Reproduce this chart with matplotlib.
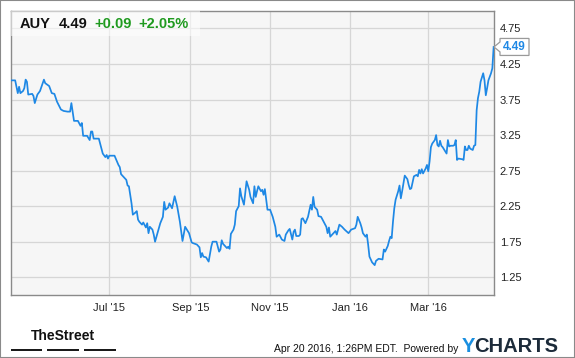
import matplotlib
matplotlib.use("Agg")
import matplotlib.pyplot as plt
import matplotlib.dates as mdates
from matplotlib.patches import Rectangle, Polygon
from matplotlib.transforms import IdentityTransform
import pandas as pd

# ── Data ──────────────────────────────────────────────────────────────────────
dates_2015 = [
    "04-17", "04-20", "04-22", "04-23", "04-24", "04-26", "04-27", "04-28", "04-29", "04-30",
    "05-03", "05-04", "05-05", "05-07", "05-09", "05-12", "05-13", "05-16", "05-18", "05-20",
    "05-22", "05-25", "05-27", "05-30", "06-01", "06-02", "06-03", "06-04", "06-07", "06-09",
    "06-10", "06-11", "06-14", "06-16", "06-17", "06-18", "06-19", "06-23", "06-25", "06-26",
    "06-28", "06-29", "06-30", "07-01", "07-05", "07-08", "07-09", "07-10", "07-12", "07-14",
    "07-15", "07-16", "07-18", "07-19", "07-21", "07-22", "07-23", "07-24", "07-26", "07-27",
    "07-29", "07-30", "07-31", "08-01", "08-02", "08-03", "08-04", "08-05", "08-07", "08-09",
    "08-11", "08-12", "08-13", "08-15", "08-16", "08-18", "08-20", "08-22", "08-24", "08-26",
    "08-28", "08-29", "08-31", "09-02", "09-03", "09-06", "09-08", "09-09", "09-10", "09-11",
    "09-13", "09-15", "09-17", "09-18", "09-21", "09-23", "09-24", "09-25", "09-26", "09-29",
    "09-30", "10-01", "10-02", "10-04", "10-05", "10-06", "10-08", "10-09", "10-10", "10-12",
    "10-14", "10-16", "10-17", "10-19", "10-20", "10-21", "10-22", "10-23", "10-25", "10-26",
    "10-27", "10-28", "10-30", "11-01", "11-03", "11-05", "11-06", "11-08", "11-10", "11-12",
    "11-13", "11-15", "11-16", "11-18", "11-19", "11-20", "11-21", "11-23", "11-24", "11-25",
    "11-26", "11-28", "11-30", "12-02", "12-03", "12-04", "12-05", "12-07", "12-08", "12-10",
    "12-12", "12-14", "12-15", "12-16", "12-17", "12-19", "12-21", "12-22", "12-23", "12-24",
    "12-26", "12-28", "12-31",
]
prices_2015 = [
    4.02, 4.02, 3.84, 3.93, 3.84, 3.87, 3.91, 4.03, 4.00, 3.82,
    3.83, 3.80, 3.70, 3.82, 3.87, 4.03, 3.98, 3.94, 3.84, 3.83,
    3.72, 3.61, 3.59, 3.58, 3.58, 3.70, 3.58, 3.45, 3.45, 3.38,
    3.42, 3.24, 3.24, 3.18, 3.30, 3.30, 3.20, 3.20, 3.06, 2.99,
    2.94, 2.97, 2.92, 2.96, 2.96, 2.83, 2.80, 2.70, 2.66, 2.62,
    2.54, 2.53, 2.29, 2.13, 2.16, 2.18, 2.06, 2.03, 1.99, 2.02,
    1.95, 2.01, 1.87, 1.96, 1.94, 1.92, 1.85, 1.75, 1.88, 2.01,
    2.10, 2.31, 2.20, 2.23, 2.29, 2.22, 2.39, 2.24, 2.03, 1.76,
    1.96, 1.93, 1.87, 1.74, 1.73, 1.71, 1.67, 1.53, 1.59, 1.54,
    1.53, 1.47, 1.68, 1.75, 1.75, 1.61, 1.64, 1.77, 1.72, 1.66,
    1.68, 1.65, 1.86, 1.92, 1.99, 2.18, 2.25, 2.50, 2.39, 2.27,
    2.60, 2.48, 2.38, 2.29, 2.53, 2.38, 2.46, 2.53, 2.46, 2.48,
    2.41, 2.49, 2.20, 2.20, 2.10, 1.96, 1.82, 1.85, 1.78, 1.76,
    1.85, 1.91, 1.93, 1.78, 1.89, 1.92, 1.83, 1.83, 1.85, 2.07,
    2.08, 2.01, 2.10, 2.27, 2.20, 2.38, 2.24, 2.20, 2.11, 2.10,
    2.03, 1.96, 1.87, 1.95, 1.82, 1.86, 1.90, 1.85, 1.92, 1.99,
    1.96, 1.92, 1.87,
]
dates_2016 = [
    "01-02", "01-05", "01-06", "01-07", "01-09", "01-10", "01-11", "01-13", "01-14", "01-15",
    "01-16", "01-18", "01-20", "01-21", "01-23", "01-26", "01-27", "01-28", "01-30", "01-31",
    "02-01", "02-02", "02-03", "02-04", "02-05", "02-07", "02-08", "02-09", "02-10", "02-11",
    "02-12", "02-14", "02-15", "02-16", "02-17", "02-19", "02-21", "02-22", "02-23", "02-24",
    "02-25", "02-26", "02-28", "02-29", "03-01", "03-02", "03-03", "03-04", "03-06", "03-07",
    "03-08", "03-09", "03-10", "03-11", "03-12", "03-14", "03-15", "03-16", "03-17", "03-18",
    "03-20", "03-21", "03-22", "03-23", "03-24", "03-27", "03-28", "03-29", "03-30", "03-31",
    "04-01", "04-02", "04-03", "04-04", "04-05", "04-06", "04-07", "04-08", "04-09", "04-10",
    "04-12", "04-13", "04-14", "04-15", "04-16", "04-17", "04-18", "04-19", "04-20",
]
prices_2016 = [
    1.92, 1.94, 1.99, 2.10, 2.01, 1.95, 1.87, 1.82, 1.85, 1.71,
    1.54, 1.46, 1.42, 1.48, 1.51, 1.50, 1.64, 1.61, 1.69, 1.76,
    1.82, 1.80, 2.03, 2.22, 2.34, 2.46, 2.54, 2.36, 2.46, 2.57,
    2.68, 2.63, 2.55, 2.49, 2.50, 2.67, 2.69, 2.67, 2.76, 2.71,
    2.77, 2.71, 2.78, 2.83, 2.74, 2.88, 3.08, 3.13, 3.18, 3.25,
    3.11, 3.09, 3.17, 3.10, 3.08, 3.02, 2.99, 3.18, 3.09, 3.10,
    3.10, 3.11, 3.18, 2.90, 2.92, 2.91, 2.90, 3.09, 3.04, 3.04,
    3.10, 3.06, 3.05, 3.04, 3.10, 3.11, 3.60, 3.77, 3.86, 4.00,
    4.12, 4.02, 3.81, 3.91, 4.02, 4.07, 4.12, 4.19, 4.49,
]

ticker = "AUY"
last_price = 4.49
change = "+0.09"
change_pct = "+2.05%"
y_ticks = [1.25, 1.75, 2.25, 2.75, 3.25, 3.75, 4.25, 4.75]
x_ticks = ["2015-07-01", "2015-09-01", "2015-11-01", "2016-01-01", "2016-03-01"]
x_labels = ["Jul '15", "Sep '15", "Nov '15", "Jan '16", "Mar '16"]
stamp = "Apr 20 2016, 1:26PM EDT.  Powered by"

dates = pd.to_datetime(["2015-" + d for d in dates_2015] + ["2016-" + d for d in dates_2016])
prices = prices_2015 + prices_2016

# ── Style ─────────────────────────────────────────────────────────────────────
plt.rcParams["font.family"] = ["Liberation Sans", "DejaVu Sans"]
BLUE = "#1e88e5"
GREEN = "#1f9a1f"
W, H = 575, 358

def fx(px):
    return px / W

def fy(py):
    return 1 - py / H

fig = plt.figure(figsize=(W / 100, H / 100), dpi=100)
ax = fig.add_axes([fx(10.7), fy(295), fx(494.3) - fx(10.7), fy(10.7) - fy(295)])
ax.set_facecolor("#f6f6f6")

ax.plot(dates, prices, color=BLUE, lw=1.25, zorder=3)

ax.set_xlim(pd.Timestamp("2015-04-16 14:00"), pd.Timestamp("2016-04-20 12:00"))
ax.set_ylim(1.0, 5.0)
ax.set_xticks(pd.to_datetime(x_ticks))
ax.set_xticklabels(x_labels)
ax.set_yticks(y_ticks)
ax.set_yticklabels([f"{v:.2f}" for v in y_ticks])
ax.yaxis.tick_right()
ax.tick_params(axis="both", length=0, labelsize=8, labelcolor="#222222")
ax.tick_params(axis="x", pad=6)
ax.tick_params(axis="y", pad=4)
ax.grid(True, color="#d6d6d6", lw=0.9, zorder=0)
ax.set_axisbelow(True)
for s in ax.spines.values():
    s.set_color("#8a8a8a")
    s.set_linewidth(1.0)

# header box
ax.add_patch(Rectangle((fx(11), fy(36)), fx(200) - fx(11), fy(11) - fy(36),
                       transform=fig.transFigure, facecolor="white", alpha=0.55,
                       edgecolor="none", zorder=4))
hy = fy(23.5)
fig.text(fx(20), hy, ticker, fontsize=10.5, fontweight="bold", va="center", color="#111111", zorder=5)
fig.text(fx(58.5), hy, f"{last_price:.2f}", fontsize=10.5, fontweight="bold", va="center", color="#111111", zorder=5)
fig.text(fx(94.5), hy, change, fontsize=10.5, fontweight="bold", va="center", color=GREEN, zorder=5)
fig.text(fx(138.5), hy, change_pct, fontsize=10.5, fontweight="bold", va="center", color=GREEN, zorder=5)

# last price tag on the right axis
fig.canvas.draw()
_, py = ax.transData.transform((mdates.date2num(dates[-1]), last_price))
tag = Polygon([(494, py), (500, py + 5), (500, py + 8.5), (529, py + 8.5),
               (529, py - 8.5), (500, py - 8.5), (500, py - 5)],
              closed=True, transform=IdentityTransform(), facecolor="white",
              edgecolor="#9a9a9a", lw=0.9, zorder=6)
fig.patches.append(tag)
tag.set_figure(fig)
fig.text(fx(514.5), py / H, f"{last_price:.2f}", fontsize=8.5, fontweight="bold",
         color=BLUE, ha="center", va="center", zorder=7)

# footer
fig.text(fx(63), fy(336), "TheStreet", fontsize=10, fontweight="bold", ha="center", va="center",
         color="#111111")
for x0, x1 in [(10.7, 42.3), (47.3, 79), (84, 115.7)]:
    fig.patches.append(Rectangle((fx(x0), fy(351)), fx(x1) - fx(x0), 2.2 / H,
                                 transform=fig.transFigure, facecolor="#1a1a1a",
                                 edgecolor="none", figure=fig))
fig.text(fx(458.5), fy(348.5), stamp, fontsize=7.5, ha="right", va="center", color="#111111")
fig.text(fx(461.5), fy(346), "Y", fontsize=14.5, fontweight="bold", va="center", color="#1a8fe0")
fig.text(fx(474.5), fy(346), "CHARTS", fontsize=14.5, fontweight="bold", va="center", color="#1c2b3a")

# outer frame
fig.patches.append(Rectangle((0, 0), 1, 1, transform=fig.transFigure, fill=False,
                             edgecolor="#8a8a8a", lw=1.5, figure=fig))

fig.savefig("out.png", dpi=100)
